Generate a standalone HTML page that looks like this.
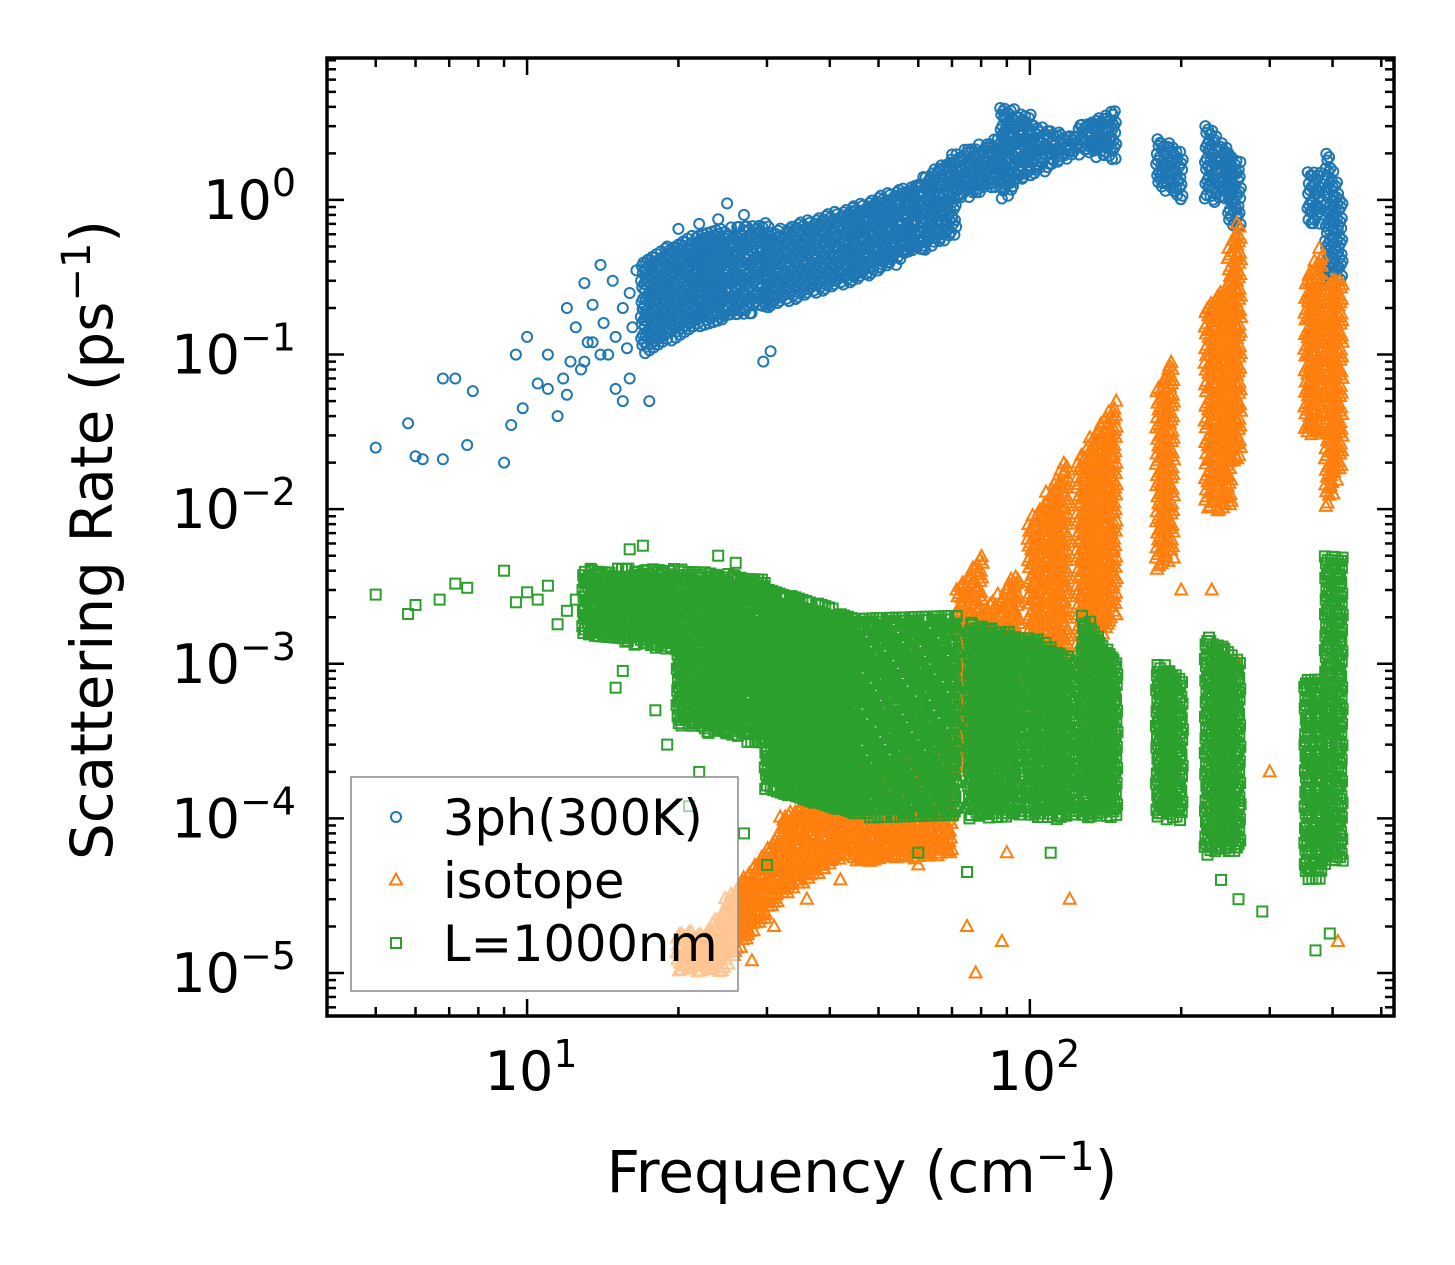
<!DOCTYPE html>
<html><head><meta charset="utf-8"><style>
html,body{margin:0;padding:0;background:#fff;}
svg{display:block;font-family:"DejaVu Sans","Liberation Sans",sans-serif;}
</style></head><body>
<svg id="chart" width="1455" height="1265" viewBox="0 0 1455 1265" xmlns="http://www.w3.org/2000/svg">
<g id="marks"></g>
<g id="axes"></g>
<g id="legend"></g>
</svg>
<script>
// ---- data (frequency cm^-1, rate ps^-1) ----
// dense bands: [xStart, xEnd, lowAtStart, lowAtEnd, highAtStart, highAtEnd]
const blueBandX0 = [17,22,30,45,60,72,88,100,125,180,225,250,360,390];
const blueBandX1 = [22,30,45,60,72,88,100,125,150,200,250,265,378,420];
const blueBandLo0 = [0.1,0.15,0.2,0.3,0.45,1.0,1.0,1.4,2.0,1.2,1.0,0.7,0.7,0.3];
const blueBandLo1 = [0.15,0.2,0.3,0.45,0.6,1.2,1.5,2.0,1.8,1.0,1.0,0.6,0.7,0.3];
const blueBandHi0 = [0.4,0.6,0.6,0.9,1.3,2.0,4.0,3.0,3.0,2.5,3.0,2.0,1.5,2.0];
const blueBandHi1 = [0.6,0.7,0.9,1.3,2.0,2.5,3.5,2.5,3.8,2.0,2.0,1.6,1.5,0.9];
const blueX = [5,5.8,6,6.2,6.8,6.8,7.2,7.6,7.8,9,9.3,9.5,9.8,10,10.5,11,11,11.5,12,12,12.5,13,13.5,14,14.5,14.8,15,15.5,16,16.5,17,17.5,13,14,15,11.8,12.8,29.5,30.5,20,25,27,22,24,16,18,19,13.5,15.5,14.2,15.8,16.2,13.2,12.2];
const blueY = [0.025,0.036,0.022,0.021,0.021,0.07,0.07,0.026,0.058,0.02,0.035,0.1,0.045,0.13,0.065,0.06,0.1,0.04,0.055,0.2,0.15,0.29,0.21,0.38,0.1,0.3,0.06,0.05,0.07,0.35,0.2,0.05,0.09,0.1,0.13,0.07,0.08,0.09,0.105,0.65,0.95,0.8,0.7,0.75,0.25,0.4,0.5,0.12,0.2,0.16,0.11,0.15,0.12,0.09];

const orangeBandX0 = [20,22,25,32,45,72,80,100,125,180,225,250,355,390];
const orangeBandX1 = [25,27,32,45,70,80,96,118,148,195,250,265,380,420];
const orangeBandLo0 = [1e-5,1.2e-5,1.1e-5,3e-5,5e-5,2e-4,3e-4,5e-4,1e-3,4e-3,1e-2,2e-2,3e-2,1e-2];
const orangeBandLo1 = [1e-5,2e-5,3e-5,6e-5,6e-5,3e-4,4e-4,8e-4,2e-3,5e-3,1e-2,2e-2,3e-2,2e-2];
const orangeBandHi0 = [1.8e-5,1.5e-5,3e-5,1e-4,2e-4,3e-3,2e-3,8e-3,2e-2,6e-2,2e-1,5e-1,3e-1,3e-1];
const orangeBandHi1 = [1.8e-5,4e-5,8e-5,2e-4,2.5e-4,5e-3,4e-3,2e-2,5e-2,1e-1,3e-1,8e-1,5e-1,3e-1];
const orangeX = [75,78,88,120,90,60,55,410,370,230,240,260,28,31,36,42,50,65,300,200];
const orangeY = [2e-5,1e-5,1.6e-5,3e-5,6e-5,5e-5,9e-5,1.6e-5,2e-4,3e-3,5e-4,1e-3,1.2e-5,2e-5,3e-5,4e-5,6e-5,7e-5,2e-4,3e-3];

const greenBandX0 = [13,20,30,45,76,100,128,180,225,355,390];
const greenBandX1 = [20,30,45,72,96,125,150,200,265,380,420];
const greenBandLo0 = [1.5e-3,4e-4,1.5e-4,1e-4,1e-4,1e-4,1e-4,1e-4,6e-5,4e-5,5e-5];
const greenBandLo1 = [1.2e-3,3e-4,1e-4,1e-4,1e-4,1e-4,1e-4,1e-4,6e-5,4e-5,5e-5];
const greenBandHi0 = [4e-3,4e-3,3e-3,2e-3,1.8e-3,1.5e-3,2e-3,1e-3,1.5e-3,8e-4,5e-3];
const greenBandHi1 = [4e-3,3.5e-3,2e-3,2e-3,1.5e-3,1e-3,1e-3,8e-4,1e-3,8e-4,5e-3];
const greenX = [5,5.8,6,6.7,7.2,7.6,9,9.5,10,10.5,11,11.5,12,12.5,15,15.5,18,19,22,27,30,21,16,17,24,26,290,260,370,395,240,110,60,75];
const greenY = [2.8e-3,2.1e-3,2.4e-3,2.6e-3,3.3e-3,3.1e-3,4e-3,2.5e-3,2.9e-3,2.6e-3,3.2e-3,1.8e-3,2.2e-3,2.6e-3,7e-4,9e-4,5e-4,3e-4,2e-4,8e-5,5e-5,1.2e-4,5.5e-3,5.8e-3,5e-3,4.5e-3,2.5e-5,3e-5,1.4e-5,1.8e-5,4e-5,6e-5,6e-5,4.5e-5];

const xTickVals = [10,100];
const xTickLabels = ["1","2"];
const yTickVals = [1,0.1,0.01,0.001,0.0001,0.00001];
const yTickLabels = ["0","\u22121","\u22122","\u22123","\u22124","\u22125"];

// ---- scales ----
const PL=327, PR=1394, PT=58, PB=1016;
const XMIN=Math.log10(4), XMAX=Math.log10(530);
const YMIN=-5.278, YMAX=0.918;
function sx(v){return PL+(Math.log10(v)-XMIN)/(XMAX-XMIN)*(PR-PL);}
function sy(v){return PB-(Math.log10(v)-YMIN)/(YMAX-YMIN)*(PB-PT);}
const NS="http://www.w3.org/2000/svg";
function mk(tag,attrs,parent){const e=document.createElementNS(NS,tag);for(const k in attrs)e.setAttribute(k,attrs[k]);parent.appendChild(e);return e;}

const COL={b:"#1f77b4",o:"#ff7f0e",g:"#2ca02c"};
function marker(kind,x,y,parent){
  let e;
  if(kind==='b'){e=mk('circle',{cx:x.toFixed(1),cy:y.toFixed(1),r:5,fill:'none',stroke:COL.b,'stroke-width':2},parent);}
  else if(kind==='o'){e=mk('path',{d:`M${(x).toFixed(1)},${(y-6.5).toFixed(1)}L${(x+6).toFixed(1)},${(y+4.5).toFixed(1)}L${(x-6).toFixed(1)},${(y+4.5).toFixed(1)}Z`,fill:'none',stroke:COL.o,'stroke-width':2},parent);}
  else {e=mk('rect',{x:(x-5).toFixed(1),y:(y-5).toFixed(1),width:10,height:10,fill:'none',stroke:COL.g,'stroke-width':2},parent);}
  return e;
}
const marks=document.getElementById('marks');
function drawBands(kind,X0,X1,L0,L1,H0,H1,name){
  const g=mk('g',{},marks);
  
  
  let c=0; const step=4.5;
  for(let i=0;i<X0.length;i++){
    const a=sx(X0[i]), b=sx(X1[i]);
    for(let px=a;px<=b;px+=step){
      const t=(b>a)?(px-a)/(b-a):0;
      const lo=Math.pow(10,Math.log10(L0[i])*(1-t)+Math.log10(L1[i])*t);
      const hi=Math.pow(10,Math.log10(H0[i])*(1-t)+Math.log10(H1[i])*t);
      const y0=sy(hi), y1=sy(lo);
      for(let py=y0;py<=y1;py+=step){
        c++;
        const jx=((c*0.618034)%1-0.5)*step, jy=((c*0.754878)%1-0.5)*step;
        marker(kind,px+jx,py+jy,g);
      }
    }
  }
}
function drawPoints(kind,X,Y,name){
  const g=mk('g',{},marks);
  
  
  for(let i=0;i<X.length;i++){marker(kind,sx(X[i]),sy(Y[i]),g);}
}
drawBands('b',blueBandX0,blueBandX1,blueBandLo0,blueBandLo1,blueBandHi0,blueBandHi1,'series-3ph-dense');
drawPoints('b',blueX,blueY,'series-3ph-sparse');
drawBands('o',orangeBandX0,orangeBandX1,orangeBandLo0,orangeBandLo1,orangeBandHi0,orangeBandHi1,'series-isotope-dense');
drawPoints('o',orangeX,orangeY,'series-isotope-sparse');
drawBands('g',greenBandX0,greenBandX1,greenBandLo0,greenBandLo1,greenBandHi0,greenBandHi1,'series-boundary-dense');
drawPoints('g',greenX,greenY,'series-boundary-sparse');

// ---- axes ----
const ax=document.getElementById('axes');
const tk={stroke:'#000','stroke-width':2.5};
for(let d=0;d<=2;d++){
  for(let m=1;m<=9;m++){
    const v=m*Math.pow(10,d); if(v<4||v>530)continue;
    const x=sx(v), L=(m===1)?17:9;
    const t1=mk('line',Object.assign({x1:x,x2:x,y1:PB,y2:PB-L},tk),ax);
    
    
    mk('line',Object.assign({x1:x,x2:x,y1:PT,y2:PT+L},tk),ax);
  }
}
for(let d=-6;d<=0;d++){
  for(let m=1;m<=9;m++){
    const v=m*Math.pow(10,d); const lv=Math.log10(v); if(lv<YMIN||lv>YMAX)continue;
    const y=sy(v), L=(m===1)?17:9;
    const t1=mk('line',Object.assign({x1:PL,x2:PL+L,y1:y,y2:y},tk),ax);
    
    
    mk('line',Object.assign({x1:PR,x2:PR-L,y1:y,y2:y},tk),ax);
  }
}
const frame=mk('rect',{x:PL,y:PT,width:PR-PL,height:PB-PT,fill:'none',stroke:'#000','stroke-width':3.5},ax);


for(let i=0;i<xTickVals.length;i++){
  const t=mk('text',{x:sx(xTickVals[i])+4,y:1090,'text-anchor':'middle','font-size':54,fill:'#000'},ax);
  
  
  t.innerHTML='10<tspan dy="-23" font-size="38">'+xTickLabels[i]+'</tspan>';
}
for(let i=0;i<yTickVals.length;i++){
  const t=mk('text',{x:296,y:sy(yTickVals[i])+19,'text-anchor':'end','font-size':54,fill:'#000'},ax);
  
  
  t.innerHTML='10<tspan dy="-23" font-size="38">'+yTickLabels[i]+'</tspan>';
}
const xt=mk('text',{x:862,y:1192,'text-anchor':'middle','font-size':58,fill:'#000'},ax);


xt.innerHTML='Frequency (cm<tspan dy="-22" font-size="40">\u22121</tspan><tspan dy="22">)</tspan>';
const yt=mk('text',{x:0,y:0,'text-anchor':'middle','font-size':58,fill:'#000',transform:'translate(112,540) rotate(-90)'},ax);


yt.innerHTML='Scattering Rate (ps<tspan dy="-22" font-size="40">\u22121</tspan><tspan dy="22">)</tspan>';

// ---- legend ----
const lg=document.getElementById('legend');
const box=mk('rect',{x:351,y:777,width:387,height:214,fill:'#fff','fill-opacity':0.55,stroke:'#888','stroke-width':1.5},lg);


const entries=[['b','3ph(300K)'],['o','isotope'],['g','L=1000nm']];
for(let i=0;i<entries.length;i++){
  const y=817+i*63;
  const g=mk('g',{},lg);
  
  
  marker(entries[i][0],396,y,g);
  const t=mk('text',{x:443,y:y+18,'font-size':49.5,fill:'#000'},g);
  t.textContent=entries[i][1];
}
</script>
</body></html>
